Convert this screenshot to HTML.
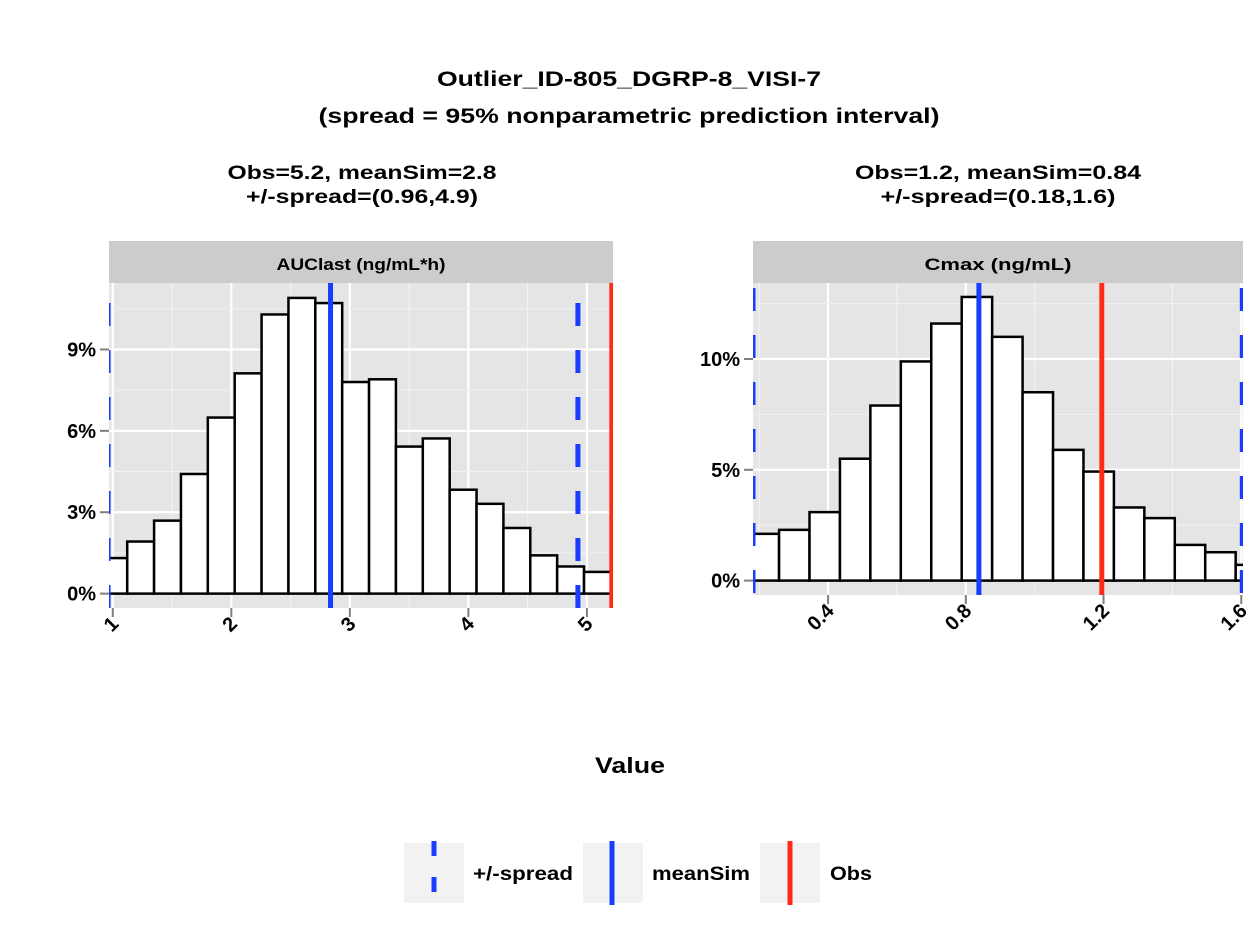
<!DOCTYPE html>
<html><head><meta charset="utf-8"><style>
body{margin:0;background:#fff;}
svg text{font-family:"Liberation Sans",Arial,sans-serif;font-weight:bold;fill:#000;}
</style></head><body>
<svg id="c" width="1259" height="944" xmlns="http://www.w3.org/2000/svg">
<text x="629" y="86" font-size="21" text-anchor="middle" textLength="384" lengthAdjust="spacingAndGlyphs">Outlier_ID-805_DGRP-8_VISI-7</text>
<text x="629" y="123" font-size="21" text-anchor="middle" textLength="621" lengthAdjust="spacingAndGlyphs">(spread = 95% nonparametric prediction interval)</text>
<text x="362" y="179" font-size="19" text-anchor="middle" textLength="269" lengthAdjust="spacingAndGlyphs">Obs=5.2, meanSim=2.8</text>
<text x="362" y="203" font-size="19" text-anchor="middle" textLength="232" lengthAdjust="spacingAndGlyphs">+/-spread=(0.96,4.9)</text>
<text x="998" y="179" font-size="19" text-anchor="middle" textLength="286" lengthAdjust="spacingAndGlyphs">Obs=1.2, meanSim=0.84</text>
<text x="998" y="203" font-size="19" text-anchor="middle" textLength="235" lengthAdjust="spacingAndGlyphs">+/-spread=(0.18,1.6)</text>
<text x="630" y="773" font-size="22" text-anchor="middle" textLength="70" lengthAdjust="spacingAndGlyphs">Value</text>
<g>
<rect x="404" y="843" width="60" height="60" fill="#f2f2f2"/>
<line x1="434" y1="841" x2="434" y2="905" stroke="#1a3cff" stroke-width="5" stroke-dasharray="15,21"/>
<text x="473" y="880" font-size="19" textLength="100" lengthAdjust="spacingAndGlyphs">+/-spread</text>
<rect x="583" y="843" width="60" height="60" fill="#f2f2f2"/>
<line x1="612" y1="841" x2="612" y2="905" stroke="#1a3cff" stroke-width="5"/>
<text x="652" y="880" font-size="19" textLength="98" lengthAdjust="spacingAndGlyphs">meanSim</text>
<rect x="760" y="843" width="60" height="60" fill="#f2f2f2"/>
<line x1="790" y1="841" x2="790" y2="905" stroke="#ff2a1a" stroke-width="5"/>
<text x="830" y="880" font-size="19" textLength="42" lengthAdjust="spacingAndGlyphs">Obs</text>
</g>
</svg>
<script>
// Left panel (AUClast)
const aucBinStart = 0.895;
const aucBinWidth = 0.2267;
const aucPct = [1.31,1.92,2.69,4.41,6.49,8.12,10.29,10.9,10.71,7.8,7.9,5.42,5.72,3.83,3.31,2.42,1.41,1.0,0.8];
const aucXTicks = [1,2,3,4,5];
const aucYTicks = [0,3,6,9];
const aucYTickLabels = ["0%","3%","6%","9%"];
const aucSpread = [0.96,4.924];
const aucMean = 2.837;
const aucObs = 5.21;
// Right panel (Cmax)
const cmaxBinStart = 0.1693;
const cmaxBinWidth = 0.0884;
const cmaxPct = [2.11,2.29,3.09,5.5,7.9,9.89,11.6,12.8,11.0,8.5,5.9,4.92,3.3,2.82,1.61,1.28,0.71];
const cmaxXTicks = [0.4,0.8,1.2,1.6];
const cmaxXTickLabels = ["0.4","0.8","1.2","1.6"];
const cmaxYTicks = [0,5,10];
const cmaxYTickLabels = ["0%","5%","10%"];
const cmaxSpread = [0.182,1.603];
const cmaxMean = 0.838;
const cmaxObs = 1.195;

const svg=document.getElementById('c');
const NS='http://www.w3.org/2000/svg';
function mk(tag,attrs,parent){const e=document.createElementNS(NS,tag);for(const k in attrs)e.setAttribute(k,attrs[k]);(parent||svg).appendChild(e);return e;}

function panel(o){
  const g=mk('g',{});
  
  
  const X=v=>o.x0+(v-o.xmin)/(o.xmax-o.xmin)*(o.x1-o.x0);
  const Y=v=>o.y1-(v-o.ymin)/(o.ymax-o.ymin)*(o.y1-o.y0);
  const strip=mk('rect',{x:o.x0,y:241,width:o.x1-o.x0,height:o.y0-241,fill:'#cccccc'},g);
  
  
  const st=mk('text',{x:(o.x0+o.x1)/2,y:270,'font-size':17,'text-anchor':'middle',textLength:o.stripLen,lengthAdjust:'spacingAndGlyphs'},g);
  st.textContent=o.strip;
  
  
  const bg=mk('rect',{x:o.x0,y:o.y0,width:o.x1-o.x0,height:o.y1-o.y0,fill:'#e5e5e5'},g);
  
  
  const clipId='clip'+o.name;
  const cp=mk('clipPath',{id:clipId},g);
  mk('rect',{x:o.x0,y:o.y0,width:o.x1-o.x0,height:o.y1-o.y0},cp);
  const inner=mk('g',{'clip-path':'url(#'+clipId+')'},g);
  for(let i=0;i<o.xticks.length;i++){
    const t=o.xticks[i];
    const l=mk('line',{x1:X(t),x2:X(t),y1:o.y0,y2:o.y1,stroke:'#fff','stroke-width':2.2},inner);
    
    
    const h=o.xticks.length>1?(o.xticks[1]-o.xticks[0])/2:0;
    for(const m of [t-h,t+h]){
      const lm=mk('line',{x1:X(m),x2:X(m),y1:o.y0,y2:o.y1,stroke:'#f2f2f2','stroke-width':1},inner);
      
      
    }
  }
  const yh=(o.yticks[1]-o.yticks[0])/2;
  for(let i=0;i<o.yticks.length;i++){
    const t=o.yticks[i];
    const l=mk('line',{x1:o.x0,x2:o.x1,y1:Y(t),y2:Y(t),stroke:'#fff','stroke-width':2.2},inner);
    
    
    const lm=mk('line',{x1:o.x0,x2:o.x1,y1:Y(t+yh),y2:Y(t+yh),stroke:'#f2f2f2','stroke-width':1},inner);
    
    
    const tk=mk('line',{x1:o.x0-9,x2:o.x0,y1:Y(t),y2:Y(t),stroke:'#7f7f7f','stroke-width':2},g);
    
    
    const tl=mk('text',{x:o.x0-13,y:Y(t)+7,'font-size':20,'text-anchor':'end'},g);
    tl.textContent=o.ylabels[i];
    
    
  }
  for(let i=0;i<o.pct.length;i++){
    const a=o.bs+i*o.bw, b=a+o.bw;
    const r=mk('rect',{x:X(a),y:Y(o.pct[i]),width:X(b)-X(a),height:Y(0)-Y(o.pct[i]),fill:'#fff',stroke:'#000','stroke-width':2.5},inner);
    
    
  }
  for(const s of o.spread){
    const l=mk('line',{x1:X(s),x2:X(s),y1:o.y0,y2:o.y1,stroke:'#1a3cff','stroke-width':5,'stroke-dasharray':'23,24','stroke-dashoffset':o.dashOff},inner);
    
    
  }
  const ml=mk('line',{x1:X(o.mean),x2:X(o.mean),y1:o.y0,y2:o.y1,stroke:'#1a3cff','stroke-width':5},inner);
  
  
  const ol=mk('line',{x1:X(o.obs),x2:X(o.obs),y1:o.y0,y2:o.y1,stroke:'#ff2a1a','stroke-width':5},inner);
  
  
  for(let i=0;i<o.xticks.length;i++){
    const t=o.xticks[i];
    const tk=mk('line',{x1:X(t),x2:X(t),y1:o.y1,y2:o.y1+9,stroke:'#7f7f7f','stroke-width':2},g);
    
    
    const tx=X(t)+7, ty=o.y1+17;
    const tl=mk('text',{x:tx,y:ty,'font-size':20,'text-anchor':'end',transform:'rotate(-45 '+tx+' '+ty+')'},g);
    tl.textContent=o.xlabels[i];
    
    
  }
}
panel({name:'auclast-panel',strip:'AUClast (ng/mL*h)',stripLen:169,dashOff:27,x0:109,x1:613,y0:283,y1:608,xmin:0.968,xmax:5.22,ymin:-0.53,ymax:11.45,
  pct:aucPct,bs:aucBinStart,bw:aucBinWidth,xticks:aucXTicks,xlabels:aucXTicks.map(String),yticks:aucYTicks,ylabels:aucYTickLabels,
  spread:aucSpread,mean:aucMean,obs:aucObs});
panel({name:'cmax-panel',strip:'Cmax (ng/mL)',stripLen:147,dashOff:42,x0:753,x1:1243,y0:283,y1:595,xmin:0.182,xmax:1.605,ymin:-0.65,ymax:13.43,
  pct:cmaxPct,bs:cmaxBinStart,bw:cmaxBinWidth,xticks:cmaxXTicks,xlabels:cmaxXTickLabels,yticks:cmaxYTicks,ylabels:cmaxYTickLabels,
  spread:cmaxSpread,mean:cmaxMean,obs:cmaxObs});
</script>
</body></html>
